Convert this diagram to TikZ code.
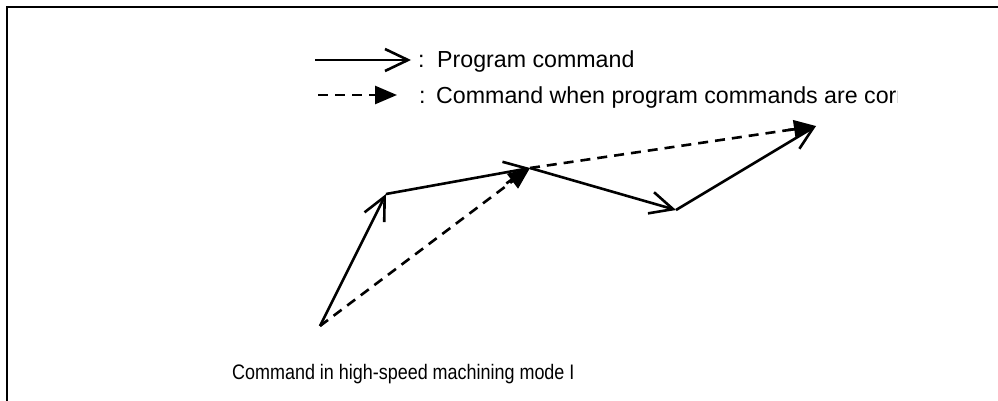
\documentclass[tikz,border=0pt]{standalone}
\usepackage{fontspec}
\setmainfont{Liberation Sans}
\usetikzlibrary{arrows.meta}
\tikzset{
  prog/.style={line width=2.6pt, -{Straight Barb[length=23pt,width=22pt,line width=2.6pt]}},
  comp/.style={line width=2.6pt, dash pattern=on 10pt off 7pt, -{Triangle[length=22pt,width=18pt]}},
  lbl/.style={font=\fontsize{23.2pt}{27pt}\selectfont, inner sep=0pt, anchor=base west},
  blbl/.style={font=\fontsize{21pt}{25pt}\selectfont, inner sep=0pt, anchor=base west, xscale=0.855},
}
\begin{document}
\begin{tikzpicture}[x=1pt,y=-1pt]
\useasboundingbox (0,0) rectangle (998,401);
% frame
\draw[line width=2.6pt] (7,401) -- (7,7) -- (998,7);
% legend
\coordinate (l1s) at (315,60);
\coordinate (l1e) at (411,60);
\coordinate (l2s) at (318,95);
\coordinate (l2e) at (397,95);
\draw[prog] (l1s) -- (l1e);
\draw[comp] (l2s) -- (l2e);
\node[lbl] (c1) at (418,68) {:};
\node[lbl] (t1) at (437,68) {Program command};
\begin{scope}
\clip (380,75) rectangle (897,115);
\node[lbl] (c2) at (419,104) {:};
\node[lbl] (t2) at (436,104) {Command when program commands are correct};
\end{scope}
% path points
\coordinate (A) at (320,326);
\coordinate (B) at (386,194);
\coordinate (C) at (530,168);
\coordinate (D) at (676,210);
\coordinate (E) at (816,126);
\draw[comp] (A) -- (C);
\draw[comp] (C) -- (E);
\draw[prog] (A) -- (B);
\draw[prog] (B) -- (C);
\draw[prog] (C) -- (D);
\draw[prog] (D) -- (E);
\node[blbl] (t3) at (232,379) {Command in high-speed machining mode I};
\end{tikzpicture}
\end{document}
